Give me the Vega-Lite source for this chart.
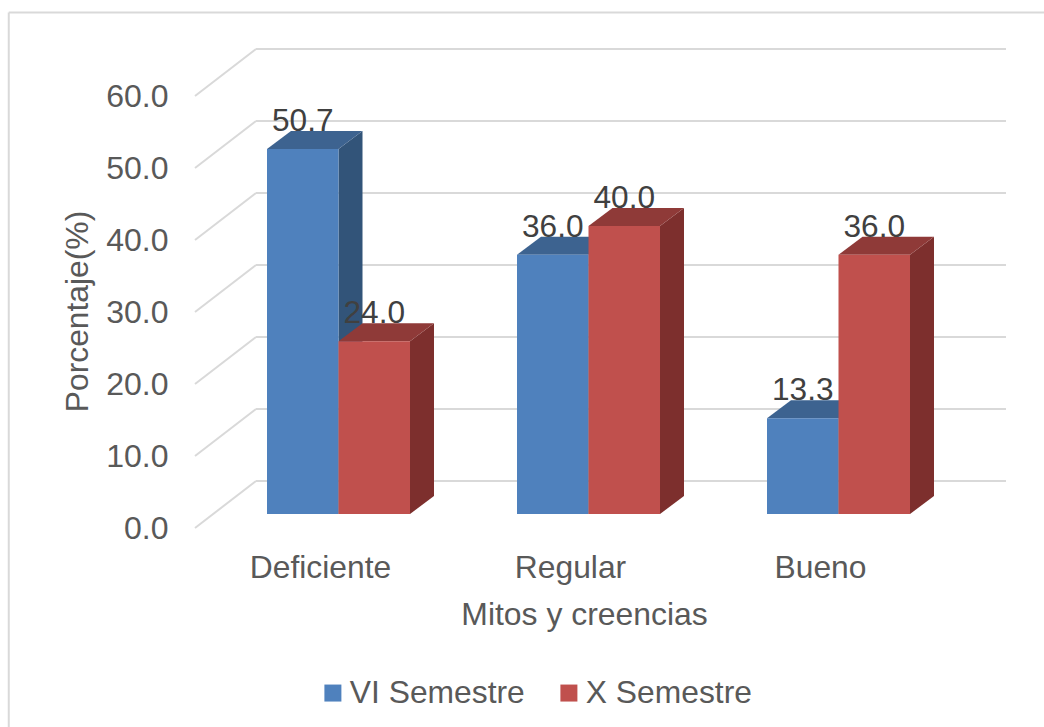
{
  "$schema": "https://vega.github.io/schema/vega-lite/v6.json",
  "width": 1036,
  "height": 715,
  "autosize": "none",
  "padding": {"left": 8, "top": 12, "right": 0, "bottom": 0},
  "background": "#ffffff",
  "config": {"font": "Liberation Sans", "view": {"stroke": null}},
  "params": [
    {"name": "floorX", "value": 0.244},
    {"name": "floorY", "value": 6.53},
    {"name": "barLift", "value": 1.944},
    {"name": "barDepthX", "value": 0.096},
    {"name": "barDepthY", "value": 2.5},
    {"name": "barStart", "value": 0.288},
    {"name": "barWidth", "value": 0.286}
  ],
  "datasets": {
    "bars": [
      {"categoria": "Deficiente", "semestre": "VI Semestre", "porcentaje": 50.7},
      {"categoria": "Deficiente", "semestre": "X Semestre", "porcentaje": 24.0},
      {"categoria": "Regular", "semestre": "VI Semestre", "porcentaje": 36.0},
      {"categoria": "Regular", "semestre": "X Semestre", "porcentaje": 40.0},
      {"categoria": "Bueno", "semestre": "VI Semestre", "porcentaje": 13.3},
      {"categoria": "Bueno", "semestre": "X Semestre", "porcentaje": 36.0}
    ],
    "ticks": [
      {"valor": 0}, {"valor": 10}, {"valor": 20}, {"valor": 30},
      {"valor": 40}, {"valor": 50}, {"valor": 60}
    ],
    "frame": [{"borde": "superior"}, {"borde": "izquierdo"}]
  },
  "encoding": {
    "x": {
      "field": "px",
      "type": "quantitative",
      "scale": {"domain": [-0.748, 3.396], "nice": false, "zero": false},
      "axis": {
        "orient": "bottom",
        "offset": -175,
        "values": [0.5, 1.5, 2.5],
        "labelExpr": "datum.value < 1 ? 'Deficiente' : datum.value < 2 ? 'Regular' : 'Bueno'",
        "domain": false,
        "ticks": false,
        "grid": false,
        "labelPadding": 0,
        "labelBaseline": "top",
        "labelFontSize": 31.8,
        "labelColor": "#595959",
        "labelFlush": false,
        "title": "Mitos y creencias",
        "titleFontSize": 31.9,
        "titleFontWeight": "normal",
        "titleColor": "#595959",
        "titleX": 576,
        "titleY": 47
      }
    },
    "y": {
      "field": "py",
      "type": "quantitative",
      "scale": {"domain": [-27.639, 71.667], "nice": false, "zero": false},
      "axis": {
        "orient": "left",
        "offset": -160,
        "values": [0, 10, 20, 30, 40, 50, 60],
        "format": ".1f",
        "domain": false,
        "ticks": false,
        "grid": false,
        "labelPadding": 0,
        "labelFontSize": 32,
        "labelColor": "#595959",
        "title": "Porcentaje(%)",
        "titleFontSize": 31.8,
        "titleFontWeight": "normal",
        "titleColor": "#595959",
        "titleAngle": -90,
        "titleX": -74,
        "titleY": 299
      }
    }
  },
  "layer": [
    {
      "data": {"name": "frame"},
      "transform": [
        {"calculate": "-0.745", "as": "px"},
        {"calculate": "datum.borde === 'superior' ? 3.396 : -0.745", "as": "px2"},
        {"calculate": "71.6", "as": "py"},
        {"calculate": "datum.borde === 'superior' ? 71.6 : -27.639", "as": "py2"}
      ],
      "mark": {"type": "rule", "color": "#d9d9d9", "strokeWidth": 2},
      "encoding": {"x2": {"field": "px2"}, "y2": {"field": "py2"}}
    },
    {
      "data": {"name": "ticks"},
      "transform": [
        {"calculate": "0", "as": "px"},
        {"calculate": "floorX", "as": "px2"},
        {"calculate": "datum.valor", "as": "py"},
        {"calculate": "datum.valor + floorY", "as": "py2"}
      ],
      "mark": {"type": "rule", "color": "#d9d9d9", "strokeWidth": 2},
      "encoding": {"x2": {"field": "px2"}, "y2": {"field": "py2"}}
    },
    {
      "data": {"name": "ticks"},
      "transform": [
        {"calculate": "floorX", "as": "px"},
        {"calculate": "3.244", "as": "px2"},
        {"calculate": "datum.valor + floorY", "as": "py"},
        {"calculate": "datum.valor + floorY", "as": "py2"}
      ],
      "mark": {"type": "rule", "color": "#d9d9d9", "strokeWidth": 2},
      "encoding": {"x2": {"field": "px2"}, "y2": {"field": "py2"}}
    },
    {
      "data": {"name": "bars"},
      "transform": [
        {"calculate": "datum.categoria + datum.semestre", "as": "barra"},
        {"calculate": "indexof(['Deficiente','Regular','Bueno'], datum.categoria) + barStart + (datum.semestre === 'X Semestre' ? barWidth : 0) + barWidth", "as": "derecha"},
        {"calculate": "[0, 1]", "as": "paso"},
        {"flatten": ["paso"]},
        {"calculate": "datum.derecha + datum.paso * barDepthX", "as": "px"},
        {"calculate": "datum.porcentaje + barLift + datum.paso * barDepthY", "as": "py"},
        {"calculate": "barLift + datum.paso * barDepthY", "as": "py2"}
      ],
      "mark": {"type": "area", "opacity": 1},
      "encoding": {
        "y2": {"field": "py2"},
        "detail": {"field": "barra"},
        "fill": {"condition": {"test": "datum.semestre === 'VI Semestre'", "value": "#325479"}, "value": "#7d2f2d"}
      }
    },
    {
      "data": {"name": "bars"},
      "transform": [
        {"calculate": "datum.categoria + datum.semestre", "as": "barra"},
        {"calculate": "indexof(['Deficiente','Regular','Bueno'], datum.categoria) + barStart + (datum.semestre === 'X Semestre' ? barWidth : 0)", "as": "izquierda"},
        {"calculate": "datum.porcentaje + barLift", "as": "techo"},
        {"calculate": "[0, 1, 2, 3]", "as": "paso"},
        {"flatten": ["paso"]},
        {"calculate": "datum.izquierda + [0, barDepthX, barWidth, barWidth + barDepthX][datum.paso]", "as": "px"},
        {"calculate": "datum.techo + [0, barDepthY, barDepthY, barDepthY][datum.paso]", "as": "py"},
        {"calculate": "datum.techo + [0, 0, 0, barDepthY][datum.paso]", "as": "py2"}
      ],
      "mark": {"type": "area", "opacity": 1},
      "encoding": {
        "y2": {"field": "py2"},
        "detail": {"field": "barra"},
        "fill": {"condition": {"test": "datum.semestre === 'VI Semestre'", "value": "#3d6390"}, "value": "#8f3a38"}
      }
    },
    {
      "data": {"name": "bars"},
      "transform": [
        {"calculate": "indexof(['Deficiente','Regular','Bueno'], datum.categoria) + barStart + (datum.semestre === 'X Semestre' ? barWidth : 0)", "as": "px"},
        {"calculate": "datum.px + barWidth", "as": "px2"},
        {"calculate": "datum.porcentaje + barLift", "as": "py"},
        {"calculate": "barLift", "as": "py2"}
      ],
      "mark": {"type": "rect", "opacity": 1},
      "encoding": {
        "x2": {"field": "px2"},
        "y2": {"field": "py2"},
        "color": {
          "field": "semestre",
          "type": "nominal",
          "scale": {"domain": ["VI Semestre", "X Semestre"], "range": ["#4f81bd", "#c0504d"]},
          "legend": {
            "orient": "none",
            "legendX": 309,
            "legendY": 665,
            "direction": "horizontal",
            "title": null,
            "symbolType": "square",
            "symbolSize": 289,
            "symbolStrokeWidth": 0,
            "symbolOpacity": 1,
            "labelFontSize": 31.8,
            "labelColor": "#595959",
            "labelLimit": 400,
            "labelOffset": 1,
            "columnPadding": 28,
            "padding": 0
          }
        }
      }
    },
    {
      "data": {"name": "bars"},
      "transform": [
        {"calculate": "indexof(['Deficiente','Regular','Bueno'], datum.categoria) + barStart + (datum.semestre === 'X Semestre' ? barWidth : 0) + barWidth / 2", "as": "px"},
        {"calculate": "datum.porcentaje + barLift + barDepthY", "as": "py"}
      ],
      "mark": {"type": "text", "fontSize": 31.6, "color": "#404040", "align": "center", "baseline": "alphabetic"},
      "encoding": {
        "text": {"field": "porcentaje", "type": "quantitative", "format": ".1f"}
      }
    }
  ]
}
